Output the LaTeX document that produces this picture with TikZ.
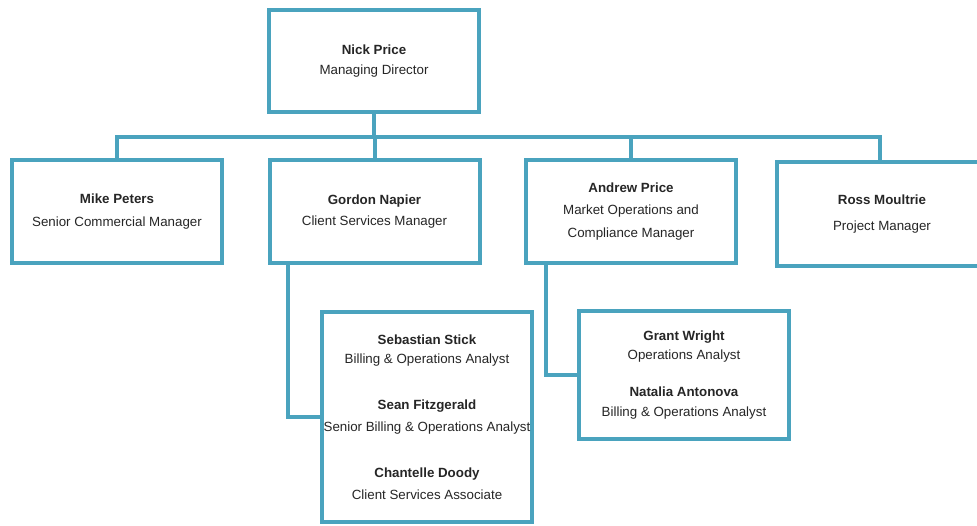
\documentclass[tikz,border=0pt]{standalone}
\usepackage{fontspec}
\setmainfont{Liberation Sans}
\definecolor{orgblue}{RGB}{74,163,190}

\begin{document}
\begin{tikzpicture}[
            x = 0.75pt, y = -0.75pt, % one unit = one pixel of the chart
            font = \fontsize{10}{16}\selectfont,
            link/.style = {draw = orgblue, line width = 3pt}, % connector style
            semithick
        ]

        \tikzstyle{person}=[
            draw = orgblue,
            line width = 3pt,
            fill = white,
            align = center,
            inner sep = 0pt,
            text = black!85,
            minimum width = 157.5pt
        ]

        \useasboundingbox (0,0) rectangle (977,525);

        % top level
        \node[person, minimum height = 76.5pt] (nick) at (374,61)
            {\textbf{Nick Price}\\[-1pt]Managing Director};

        % managers
        \node[person, minimum height = 77pt] (mike) at (117,211.5)
            {\textbf{Mike Peters}\\[1pt]Senior Commercial Manager};
        \node[person, minimum height = 77pt] (gordon) at (374.5,211.5)
            {\textbf{Gordon Napier}\\Client Services Manager};
        \node[person, minimum height = 77pt] (andrew) at (631,211.5)
            {\textbf{Andrew Price}\\[1pt]Market Operations and\\[1pt]Compliance Manager};
        \node[person, minimum height = 78pt] (ross) at (882,214)
            {\textbf{Ross Moultrie}\\[3pt]Project Manager};

        % analysts
        \node[person, minimum height = 157.5pt] (sebastian) at (427,417)
            {\textbf{Sebastian Stick}\\[-2pt]Billing \& Operations Analyst\\[19pt]
             \textbf{Sean Fitzgerald}\\Senior Billing \& Operations Analyst\\[19pt]
             \textbf{Chantelle Doody}\\Client Services Associate};
        \node[person, minimum height = 96pt] (grant) at (684,375)
            {\textbf{Grant Wright}\\[-2pt]Operations Analyst\\[12pt]
             \textbf{Natalia Antonova}\\[-1pt]Billing \& Operations Analyst};

        \coordinate (bus) at (374,137);

        \path[link] (nick) -- (bus);
        \path[link] (bus) -| (mike);
        \path[link] (bus) -| (gordon);
        \path[link] (bus) -| (andrew);
        \path[link] (bus) -| (880,160) coordinate (rosstop) -- (rosstop |- ross.north);
        \path[link] (gordon.south west) ++(20,0) |- (sebastian.west);
        \path[link] (andrew.south west) ++(22,0) |- (grant.west);
     \end{tikzpicture}
\end{document}
